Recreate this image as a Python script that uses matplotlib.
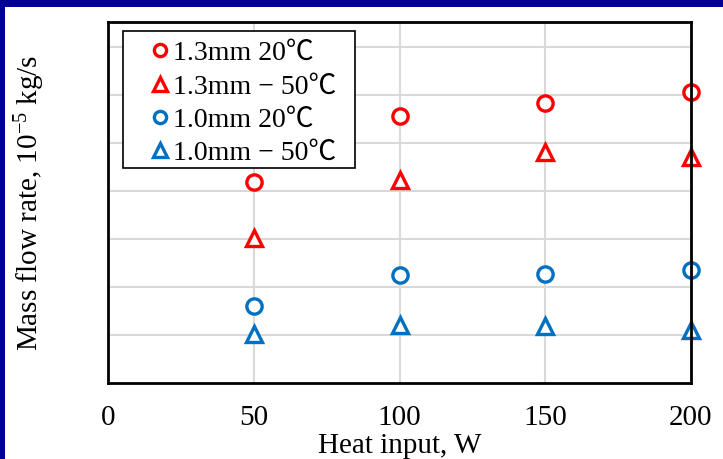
import matplotlib
matplotlib.use("Agg")
import matplotlib.pyplot as plt
from matplotlib.patches import Rectangle

plt.rcParams['font.family'] = ['Liberation Serif', 'Noto Sans CJK JP']
plt.rcParams['mathtext.fontset'] = 'custom'
plt.rcParams['mathtext.rm'] = 'Liberation Serif'
plt.rcParams['mathtext.default'] = 'regular'

# Heat input, W
heat = [50, 100, 150, 200]

# Mass flow rate (grid units)
d13_20 = [4.18, 5.57, 5.83, 6.06]
d13_m50 = [3.02, 4.22, 4.81, 4.70]
d10_20 = [1.60, 2.25, 2.28, 2.36]
d10_m50 = [1.03, 1.21, 1.19, 1.10]

labels = ["1.3mm 20℃", "1.3mm − 50℃", "1.0mm 20℃", "1.0mm − 50℃"]
series = [d13_20, d13_m50, d10_20, d10_m50]
colors = ["#ff0000", "#ff0000", "#0070c0", "#0070c0"]
markers = ["o", "^", "o", "^"]

fig = plt.figure(figsize=(7.23, 4.59), dpi=100)
fig.patch.set_facecolor("white")

# navy frame along the top and left edges
navy = "#000099"
fig.patches.append(Rectangle((0, 1 - 7 / 459), 1, 7 / 459, transform=fig.transFigure,
                             facecolor=navy, edgecolor="none", zorder=0))
fig.patches.append(Rectangle((0, 0), 5 / 723, 1, transform=fig.transFigure,
                             facecolor=navy, edgecolor="none", zorder=0))

ax = fig.add_axes([108 / 723, 76 / 459, 583 / 723, 361 / 459])

for ys, c, m, lab in zip(series, colors, markers, labels):
    ms = 11 if m == "o" else 12
    ax.plot(heat, ys, linestyle="none", marker=m, markersize=ms,
            markerfacecolor="white", markeredgecolor=c, markeredgewidth=2.4,
            label=lab, clip_on=False)

ax.set_xlim(0, 200)
ax.set_ylim(0, 7.52)
ax.set_xticks([0, 50, 100, 150, 200])
ax.set_yticks(range(1, 8))
ax.set_yticklabels([])
ax.grid(True, color="#d9d9d9", linewidth=1.5)
ax.set_axisbelow(True)
ax.tick_params(length=0, labelsize=21, pad=16)

for s in ax.spines.values():
    s.set_linewidth(2)
    s.set_color("black")

ax.set_xlabel("Heat input, W", fontsize=21)
ax.xaxis.set_label_coords(0.5, -0.138)
ax.set_ylabel("Mass flow rate, 10$^{-5}$ kg/s", fontsize=21)
ax.yaxis.set_label_coords(-0.105, 0.5)

# legend box drawn separately so the padding around the entries can be set freely
ax.add_patch(Rectangle((15 / 583, (383 - 168) / 361), 232 / 583, 137 / 361,
                       transform=ax.transAxes, facecolor="white", edgecolor="black",
                       linewidth=1.2, zorder=3, clip_on=False))
leg = ax.legend(loc="upper left", bbox_to_anchor=(0.075, 0.948), borderaxespad=0,
                fontsize=20, frameon=False, borderpad=0,
                handlelength=0.6, handletextpad=0.17, labelspacing=0.28,
                markerscale=0.8)
leg.set_zorder(4)

fig.savefig("out.png", dpi=100)
